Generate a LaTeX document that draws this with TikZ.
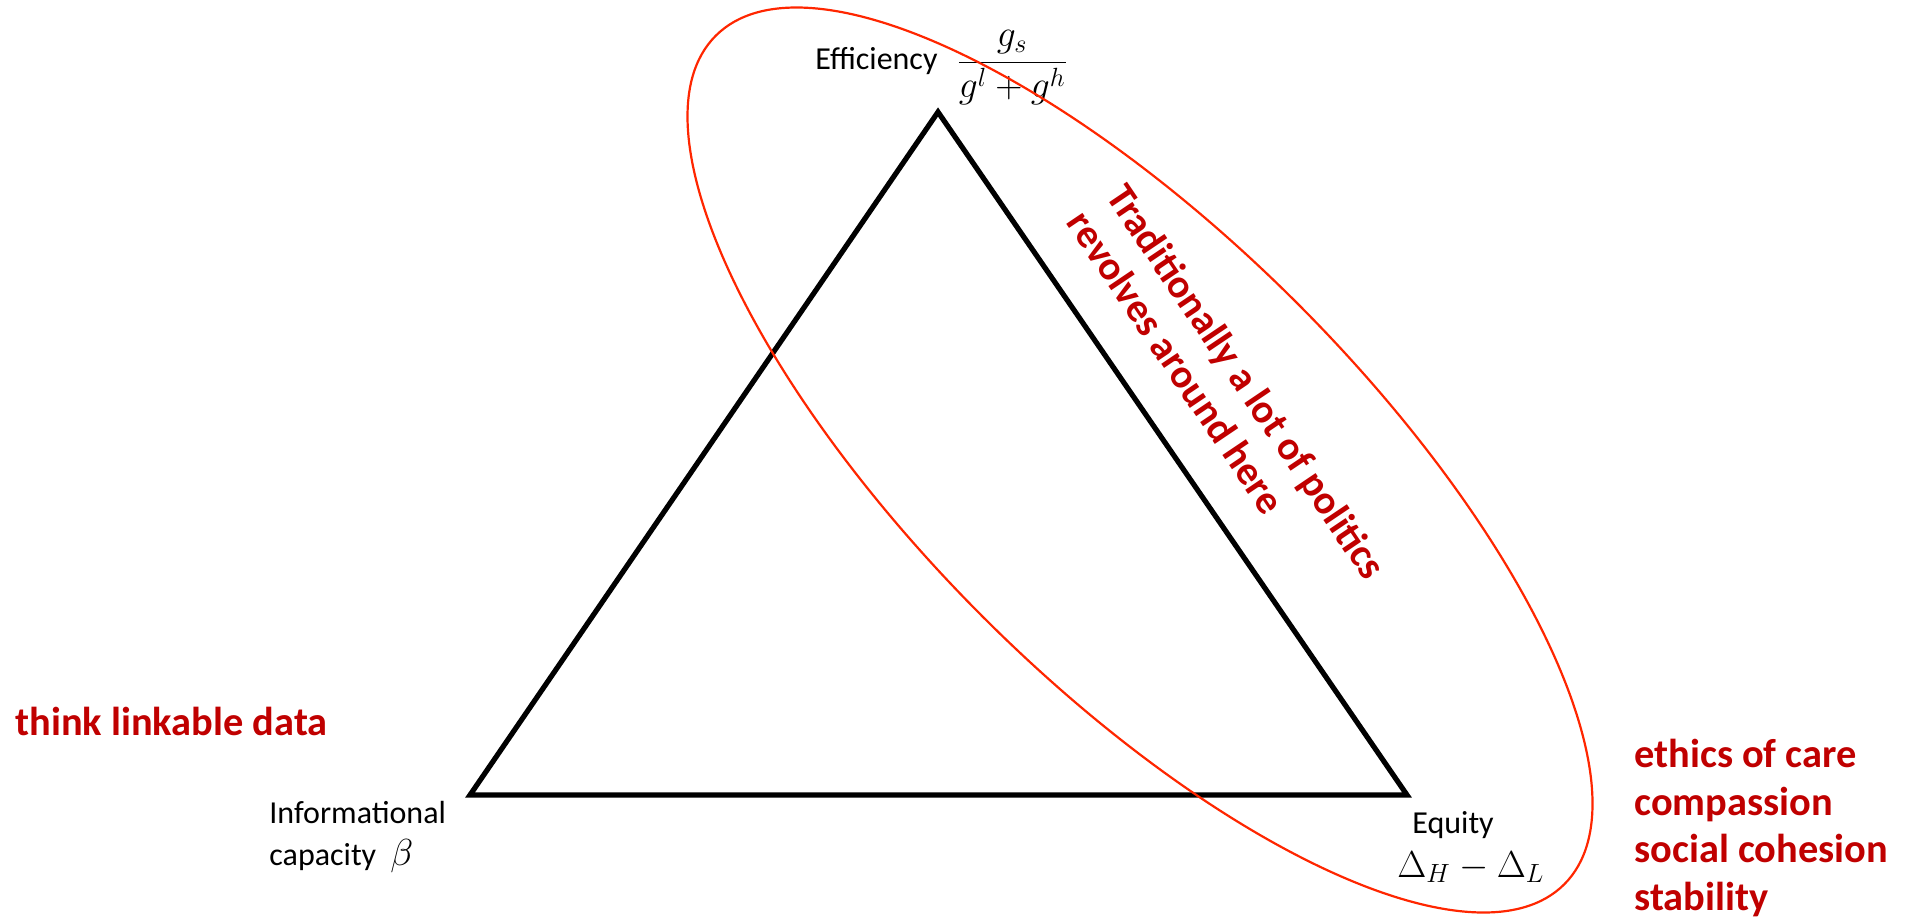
\RequirePackage{fix-cm}
\documentclass[tikz,border=0pt]{standalone}
\usepackage{fontspec}
\setmainfont{Carlito}
\definecolor{darkred}{RGB}{192,0,0}
\definecolor{ringred}{RGB}{255,38,0}
\begin{document}
\begin{tikzpicture}[x=0.5pt,y=-0.5pt,
  lbl/.style={inner sep=0pt,anchor=base west,font=\fontsize{16}{19}\selectfont},
  note/.style={inner sep=0pt,anchor=base west,text=darkred,font=\fontsize{20.2}{23.8}\selectfont\bfseries},
  mth/.style={inner sep=0pt,anchor=base west,font=\fontsize{18.8}{22}\selectfont},
  tri/.style={line width=2.6pt,line join=miter},
  ring/.style={draw=ringred,line width=1.1pt}]
\useasboundingbox (0,0) rectangle (1914,920);
% triangle
\coordinate (T) at (938,112);
\coordinate (L) at (470,795);
\coordinate (R) at (1407,795);
\draw[tri] (L) -- (T) -- (R) -- cycle;
% labels
\node[lbl] (eff) at (815,70) {Efficiency};
\node[mth] (effm) at (956,72) {$\displaystyle\frac{g_s}{g^l+g^h}$};
\node[lbl] (info1) at (269,823) {Informational};
\node[lbl] (info2) at (269,865) {capacity};
\node[mth] (infom) at (390,865) {$\beta$};
\node[lbl] (equ) at (1412,833) {Equity};
\node[mth] (equm) at (1397,877) {$\Delta_H-\Delta_L$};
% notes
\node[note] (think) at (15,735) {think linkable data};
\node[note] (ethics) at (1634,767) {ethics of care};
\node[note] (comp) at (1634,815) {compassion};
\node[note] (soc) at (1634,862) {social cohesion};
\node[note] (stab) at (1634,910) {stability};
\node[note,rotate=-56,align=left] (trad) at (1065.5,222.6) {Traditionally a lot of politics\\revolves around here};
% ellipse
\coordinate (C) at (1140,460);
\draw[ring, rotate around={-45:(C)}] (C) ellipse [x radius=300pt, y radius=111pt];
\end{tikzpicture}
\end{document}
